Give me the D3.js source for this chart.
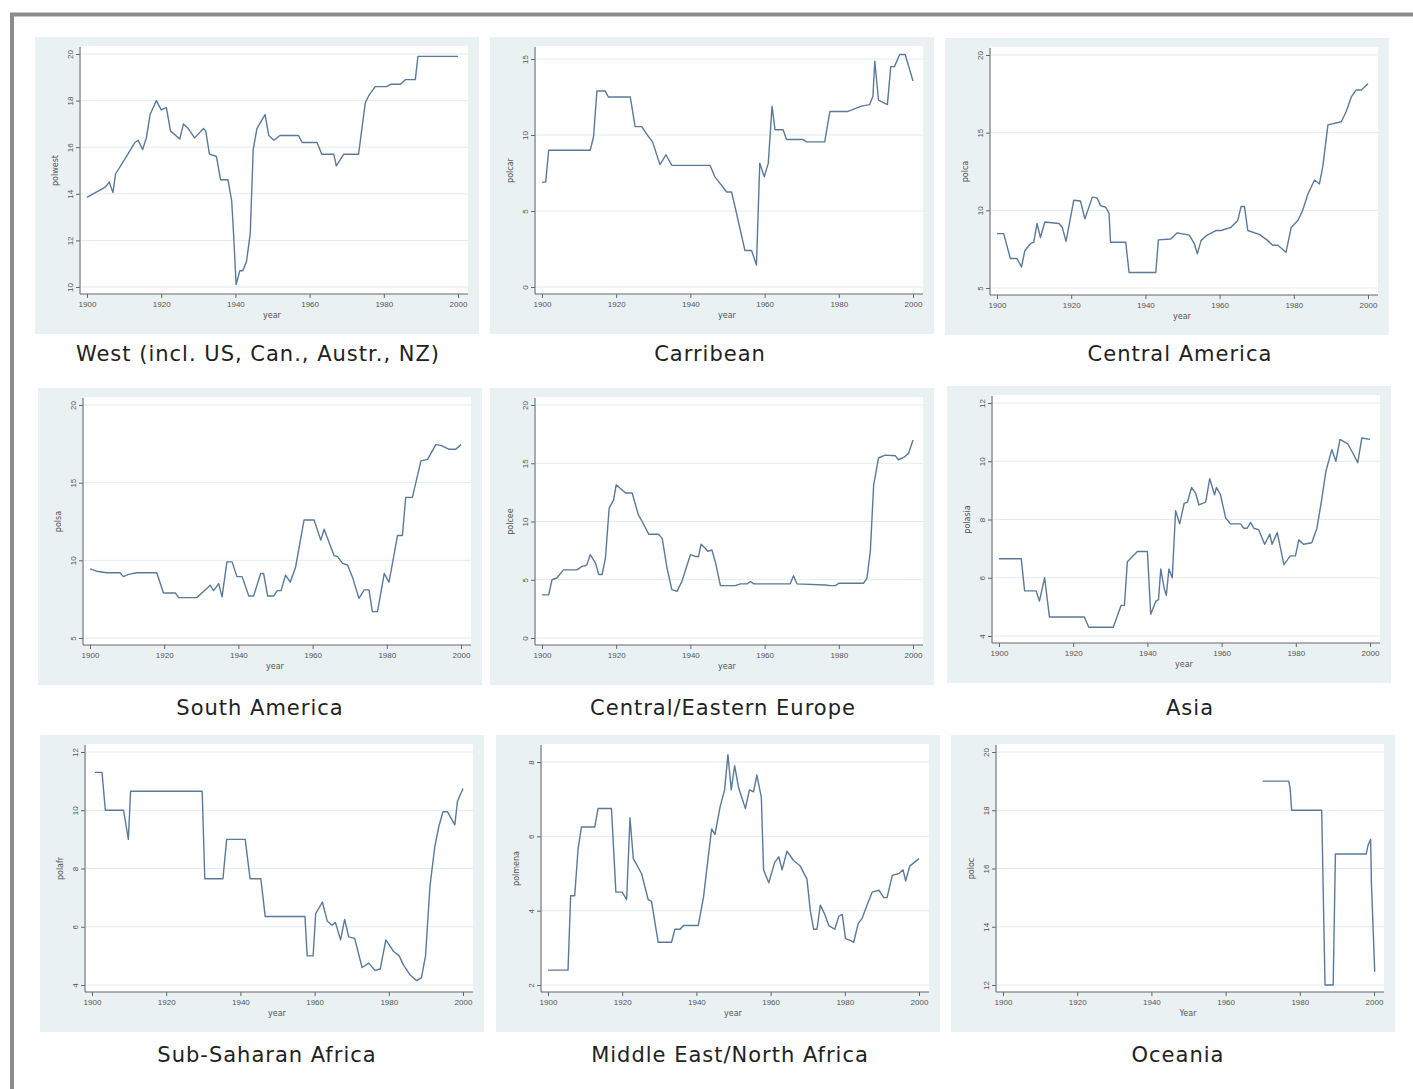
<!DOCTYPE html>
<html lang="en">
<head>
<meta charset="UTF-8">
<title>Polity scores by region, 1900-2000</title>
<style>
  body { margin: 0; background: #fff; }
  svg { display: block; font-family: 'DejaVu Sans', Verdana, sans-serif; }
  .title { font-size: 21px; fill: #222; letter-spacing: 1px; }
  .tick text { font-size: 8px; fill: #555; }
  .axis-title { font-size: 8px; fill: #555; }
</style>
</head>
<body>
<svg id="chart" width="1413" height="1089"></svg>
<script src="https://cdn.jsdelivr.net/npm/d3@7"></script>
<script>
// values, [year, score]
const westData = [
  [1900,13.85],[1905,14.3],[1906,14.5],[1907,14.05],[1907.7,14.85],[1910.6,15.6],[1912.9,16.2],
  [1913.8,16.3],[1915,15.9],[1916,16.4],[1917,17.4],[1918.7,18.0],[1920,17.6],[1921.4,17.7],
  [1922.5,16.7],[1925,16.35],[1926,17.0],[1927.3,16.8],[1929,16.4],[1931.4,16.8],[1932,16.7],
  [1933,15.7],[1934.9,15.6],[1936,14.6],[1938,14.6],[1939,13.7],[1939.5,12.3],[1940.2,10.1],
  [1941.2,10.7],[1942,10.7],[1943,11.1],[1944,12.3],[1944.8,15.9],[1945.8,16.8],[1948,17.4],
  [1949,16.5],[1950.4,16.3],[1952,16.5],[1957,16.5],[1958,16.2],[1962,16.2],[1963.3,15.7],
  [1966.5,15.7],[1967.2,15.2],[1969.2,15.7],[1973.2,15.7],[1975,17.9],[1975.9,18.2],[1977.7,18.6],
  [1980.8,18.6],[1981.8,18.7],[1984.5,18.7],[1985.8,18.9],[1988.5,18.9],[1989.2,19.9],[2000,19.9]
];
const caribData = [
  [1900,6.9],[1901,6.9],[1901.8,9.0],[1913,9.0],[1913.9,9.9],[1914.8,12.9],[1917,12.9],[1917.9,12.5],
  [1923.8,12.5],[1925.1,10.55],[1926.9,10.55],[1928.7,9.9],[1929.8,9.55],[1931.8,8.05],[1933.4,8.7],
  [1935,8.0],[1945.3,8.0],[1946.6,7.25],[1949.8,6.25],[1951.1,6.25],[1952,5.3],[1954.7,2.4],
  [1956.5,2.4],[1957.8,1.45],[1958.7,8.15],[1959.9,7.25],[1961,8.15],[1962,11.9],[1962.8,10.35],
  [1965,10.35],[1965.9,9.7],[1970.4,9.7],[1971.3,9.55],[1976.2,9.55],[1977.6,11.55],[1982.5,11.55],
  [1986.1,11.9],[1988.3,12.0],[1989.2,12.55],[1989.7,14.85],[1990.7,12.3],[1993.1,12.0],[1994,14.5],
  [1995,14.5],[1996.4,15.3],[1997.9,15.3],[2000,13.55]
];
const centAmData = [
  [1900,8.5],[1901.8,8.5],[1903.6,6.9],[1905.4,6.9],[1906.6,6.35],[1907.5,7.4],[1909,7.85],
  [1909.9,7.95],[1910.8,9.15],[1911.7,8.25],[1912.9,9.25],[1916.7,9.15],[1917.6,8.9],[1918.6,8.0],
  [1920.7,10.65],[1922.5,10.6],[1923.7,9.45],[1925.7,10.85],[1927,10.8],[1927.9,10.3],[1929.3,10.2],
  [1930.2,9.8],[1930.6,7.95],[1934.7,7.95],[1935.6,6.0],[1942.8,6.0],[1943.5,8.1],[1946.8,8.15],
  [1948.6,8.55],[1951.8,8.4],[1953.2,7.85],[1954,7.2],[1955,8.05],[1956.3,8.35],[1959,8.7],
  [1960.4,8.7],[1963,8.9],[1964.9,9.35],[1965.8,10.25],[1966.7,10.25],[1967.6,8.7],[1970.7,8.45],
  [1973,8.05],[1974.3,7.75],[1975.7,7.75],[1977.9,7.3],[1979.3,8.9],[1981.1,9.35],[1982.4,10.0],
  [1983.8,11.05],[1985.6,11.95],[1986.9,11.7],[1987.8,12.8],[1989.2,15.5],[1992.8,15.7],
  [1994.1,16.35],[1995.5,17.3],[1996.8,17.75],[1998.2,17.75],[2000,18.15]
];
const southAmData = [
  [1900,9.45],[1901.8,9.3],[1904.5,9.2],[1908.1,9.2],[1909,8.95],[1910.4,9.1],[1912.6,9.2],
  [1918,9.2],[1919.8,7.9],[1923,7.9],[1923.9,7.6],[1928.8,7.6],[1930.6,8.0],[1932.4,8.4],
  [1933.3,8.05],[1934.7,8.5],[1935.6,7.65],[1936.9,9.9],[1938.3,9.9],[1939.6,8.95],[1941,8.95],
  [1942.8,7.7],[1944.1,7.7],[1946,9.15],[1946.8,9.15],[1947.9,7.7],[1949.5,7.7],[1950.5,8.05],
  [1951.5,8.05],[1952.7,9.05],[1954,8.6],[1955.4,9.55],[1957.7,12.6],[1960.4,12.6],[1962.2,11.3],
  [1963.1,12.0],[1965.8,10.3],[1966.7,10.25],[1968.1,9.8],[1969.4,9.7],[1970.7,8.95],[1972.5,7.55],
  [1973.9,8.1],[1975.2,8.1],[1976.1,6.7],[1977.5,6.7],[1979.3,9.15],[1980.6,8.6],[1982.9,11.6],
  [1984.2,11.6],[1985.1,14.05],[1986.9,14.05],[1989.2,16.4],[1991,16.5],[1993.2,17.45],
  [1994.6,17.4],[1996.8,17.15],[1998.6,17.15],[2000,17.45]
];
const ceeData = [
  [1900,3.7],[1901.8,3.7],[1902.7,5.0],[1904,5.15],[1905.8,5.85],[1909.4,5.85],[1910.8,6.15],
  [1911.7,6.2],[1912.1,6.3],[1913,7.15],[1914.4,6.45],[1915.3,5.45],[1916.2,5.45],[1917.1,6.85],
  [1918.1,11.15],[1919.3,11.85],[1920,13.15],[1922.5,12.45],[1924.3,12.45],[1926,10.55],[1927,10.0],
  [1928.8,8.9],[1931.4,8.9],[1932.4,8.55],[1933.7,6.0],[1935,4.15],[1936.4,4.0],[1937.7,4.85],
  [1940,7.15],[1941.3,7.0],[1942.2,7.0],[1942.9,8.05],[1944,7.7],[1944.7,7.45],[1945.8,7.55],
  [1946.7,6.55],[1948.1,4.5],[1952.1,4.5],[1953.5,4.65],[1955.3,4.65],[1956.2,4.85],[1957.1,4.65],
  [1966.9,4.65],[1967.8,5.35],[1968.7,4.65],[1976.4,4.55],[1977.7,4.5],[1979.1,4.5],[1980,4.7],
  [1986.7,4.7],[1987.6,5.15],[1988.5,7.45],[1989.4,13.15],[1990.7,15.45],[1992.5,15.7],
  [1995.2,15.65],[1996.1,15.3],[1997.5,15.5],[1998.8,15.85],[2000,17.0]
];
const asiaData = [
  [1900,6.65],[1906,6.65],[1906.9,5.55],[1910,5.55],[1910.9,5.2],[1912.3,6.0],[1913.6,4.65],
  [1923,4.65],[1924.2,4.3],[1930.8,4.3],[1932.9,5.05],[1933.8,5.05],[1934.6,6.55],[1937.3,6.9],
  [1940,6.9],[1940.9,4.75],[1942.3,5.2],[1943,5.25],[1943.6,6.3],[1944.5,5.65],[1945.1,5.4],
  [1945.8,6.3],[1946.7,6.0],[1947.6,8.3],[1948.7,7.85],[1949.9,8.55],[1950.8,8.6],[1951.9,9.1],
  [1953,8.9],[1953.9,8.5],[1955.7,8.6],[1956.8,9.4],[1958.1,8.85],[1958.6,9.1],[1959.7,8.85],
  [1961.1,8.05],[1962.4,7.85],[1965.1,7.85],[1966,7.7],[1966.9,7.7],[1967.8,7.9],[1968.7,7.7],
  [1970,7.65],[1971.6,7.15],[1973,7.5],[1973.6,7.15],[1975,7.55],[1976.8,6.45],[1978.5,6.75],
  [1979.9,6.75],[1980.8,7.3],[1982.1,7.15],[1984.3,7.2],[1985.7,7.7],[1987,8.7],[1988.1,9.65],
  [1989.7,10.4],[1990.8,10.0],[1991.9,10.75],[1994,10.6],[1995.5,10.25],[1996.7,9.95],
  [1997.8,10.8],[2000,10.75]
];
const ssaData = [
  [1900.8,11.3],[1902.7,11.3],[1903.6,10.0],[1908.5,10.0],[1909.8,9.0],[1910.4,10.65],[1929.7,10.65],
  [1930.4,7.65],[1935.3,7.65],[1936.3,9.0],[1941.3,9.0],[1942.6,7.65],[1945.5,7.65],[1946.7,6.35],
  [1957.4,6.35],[1958,5.0],[1959.6,5.0],[1960.3,6.45],[1962.1,6.85],[1963.4,6.2],[1964.7,6.05],
  [1965.6,6.15],[1967,5.55],[1968.1,6.25],[1969.2,5.65],[1970.8,5.6],[1972.8,4.6],[1974.6,4.75],
  [1976.3,4.5],[1977.7,4.55],[1979.2,5.55],[1981.3,5.15],[1982.8,5.0],[1983.9,4.7],[1985.7,4.35],
  [1987.5,4.15],[1988.8,4.25],[1989.9,5.0],[1991.1,7.4],[1992.4,8.75],[1993.5,9.45],[1994.6,9.95],
  [1995.8,9.95],[1997.8,9.5],[1998.5,10.3],[2000,10.75]
];
const menaData = [
  [1900,2.4],[1905.4,2.4],[1906.1,4.4],[1907.2,4.4],[1908.1,5.65],[1909,6.25],[1912.6,6.25],
  [1913.5,6.75],[1917.1,6.75],[1918.3,4.5],[1920,4.5],[1921.2,4.3],[1922.1,6.5],[1923,5.4],
  [1925.2,5.0],[1927,4.3],[1927.9,4.25],[1929.7,3.15],[1933.3,3.15],[1934.2,3.5],[1935.6,3.5],
  [1936.5,3.6],[1940.5,3.6],[1941.9,4.35],[1944.1,6.2],[1945,6.05],[1946.4,6.8],[1947.6,7.25],
  [1948.5,8.2],[1949.4,7.25],[1950.3,7.9],[1951.4,7.3],[1953.2,6.75],[1954.3,7.25],[1955.4,7.2],
  [1956.3,7.65],[1957.5,7.05],[1958.1,5.1],[1959.5,4.75],[1961.1,5.3],[1962.2,5.45],[1963.1,5.1],
  [1964.4,5.6],[1966.2,5.35],[1968,5.2],[1969.8,4.85],[1970.7,4.0],[1971.6,3.5],[1972.5,3.5],
  [1973.4,4.15],[1974.6,3.9],[1975.7,3.6],[1977.3,3.5],[1978.4,3.85],[1979.3,3.9],[1980.2,3.25],
  [1981.5,3.2],[1982.4,3.15],[1983.6,3.65],[1984.7,3.8],[1986,4.15],[1987.4,4.5],[1989.2,4.55],
  [1990.5,4.35],[1991.4,4.35],[1992.8,4.95],[1994.6,5.0],[1995.7,5.1],[1996.4,4.8],[1997.5,5.2],
  [2000,5.4]
];
const oceaniaData = [
  [1970,19.0],[1977,19.0],[1977.4,18.75],[1977.8,18.0],[1985.9,18.0],[1986.8,12.0],[1989,12.0],
  [1989.6,16.5],[1997.9,16.5],[1998.4,16.8],[1999.1,17.0],[1999.3,15.5],[2000.2,12.45]
];

const regionTitles = [
  'West (incl. US, Can., Austr., NZ)', 'Carribean', 'Central America',
  'South America', 'Central/Eastern Europe', 'Asia',
  'Sub-Saharan Africa', 'Middle East/North Africa', 'Oceania'
];
const yTitles = ['polwest', 'polcar', 'polca', 'polsa', 'polcee', 'polasia', 'polafr', 'polmena', 'poloc'];
const xTitles = ['year', 'year', 'year', 'year', 'year', 'year', 'year', 'year', 'Year'];
const yTickValues = [
  [10, 12, 14, 16, 18, 20], [0, 5, 10, 15], [5, 10, 15, 20],
  [5, 10, 15, 20], [0, 5, 10, 15, 20], [4, 6, 8, 10, 12],
  [4, 6, 8, 10, 12], [2, 4, 6, 8], [12, 14, 16, 18, 20]
];
const yDomains = [
  [10, 20], [0, 15.33], [5, 20],
  [5, 20], [0, 20], [4, 12],
  [4, 12], [2, 8.27], [12, 20]
];
const xTickValues = [1900, 1920, 1940, 1960, 1980, 2000];
const allSeries = [westData, caribData, centAmData, southAmData, ceeData, asiaData, ssaData, menaData, oceaniaData];

// where each little graph sits on the page, and where its caption goes
const origins = [
  [35, 37], [490, 37], [945, 38],
  [38, 388], [490, 388], [947, 386],
  [40, 735], [496, 735], [951, 735]
];
const captionPos = [
  [258, 361], [710, 361], [1180, 361],
  [260, 715], [723, 715], [1190, 715],
  [267, 1062], [730, 1062], [1178, 1062]
];

const svg = d3.select('#chart');

svg.append('rect')
  .attr('width', 1413).attr('height', 1089).attr('fill', '#fff');

// frame (cut off at right and bottom in the original)
svg.append('path')
  .attr('d', 'M12,1089 V14.5 H1413')
  .attr('fill', 'none')
  .attr('stroke', '#8b8b8b')
  .attr('stroke-width', 4);

const lineColor = '#5a7a9c';

allSeries.forEach((series, i) => {
  const [bx, by] = origins[i];
  const g = svg.append('g').attr('transform', `translate(${bx},${by})`);

  const x = d3.scaleLinear().domain([1900, 2000]).range([52, 423]);
  const y = d3.scaleLinear().domain(yDomains[i]).range([250, 17]);

  // outer graph region and white plot region
  g.append('rect')
    .attr('width', 444).attr('height', 297)
    .attr('fill', '#eaf1f3');
  g.append('rect')
    .attr('x', 46).attr('y', 9)
    .attr('width', 387).attr('height', 248)
    .attr('fill', '#fff');

  // gridlines
  g.selectAll('.grid')
    .data(yTickValues[i])
    .join('line')
    .attr('class', 'grid')
    .attr('x1', 46).attr('x2', 433)
    .attr('y1', d => y(d)).attr('y2', d => y(d))
    .attr('stroke', '#e3ebee')
    .attr('stroke-width', 1);

  // axes
  const yAxis = g.append('g')
    .attr('transform', 'translate(45,0)')
    .call(d3.axisLeft(y).tickValues(yTickValues[i]).tickFormat(d3.format('d')).tickSize(4).tickSizeOuter(0));
  yAxis.select('.domain').remove();
  yAxis.selectAll('.tick line').attr('stroke', '#666');
  yAxis.selectAll('.tick text')
    .attr('transform', 'rotate(-90)')
    .attr('x', 0).attr('y', -7).attr('dy', 0)
    .attr('text-anchor', 'middle');

  const xAxis = g.append('g')
    .attr('transform', 'translate(0,257)')
    .call(d3.axisBottom(x).tickValues(xTickValues).tickFormat(d3.format('d')).tickSize(4).tickSizeOuter(0));
  xAxis.select('.domain').remove();
  xAxis.selectAll('.tick line').attr('stroke', '#666');

  g.append('line')
    .attr('x1', 45).attr('x2', 45).attr('y1', 10).attr('y2', 257)
    .attr('stroke', '#666');
  g.append('line')
    .attr('x1', 45).attr('x2', 433).attr('y1', 257).attr('y2', 257)
    .attr('stroke', '#666');

  g.append('text')
    .attr('class', 'axis-title')
    .attr('x', 237).attr('y', 281)
    .attr('text-anchor', 'middle')
    .text(xTitles[i]);

  g.append('text')
    .attr('class', 'axis-title')
    .attr('transform', `translate(23,${(y.range()[0] + y.range()[1]) / 2}) rotate(-90)`)
    .attr('text-anchor', 'middle')
    .text(yTitles[i]);

  // the series
  const line = d3.line()
    .x(d => x(d[0]))
    .y(d => y(d[1]));

  g.append('path')
    .datum(series)
    .attr('d', line)
    .attr('fill', 'none')
    .attr('stroke', lineColor)
    .attr('stroke-width', 1.4)
    .attr('stroke-linejoin', 'round');

  svg.append('text')
    .attr('class', 'title')
    .attr('x', captionPos[i][0]).attr('y', captionPos[i][1])
    .attr('text-anchor', 'middle')
    .text(regionTitles[i]);
});
</script>
</body>
</html>
